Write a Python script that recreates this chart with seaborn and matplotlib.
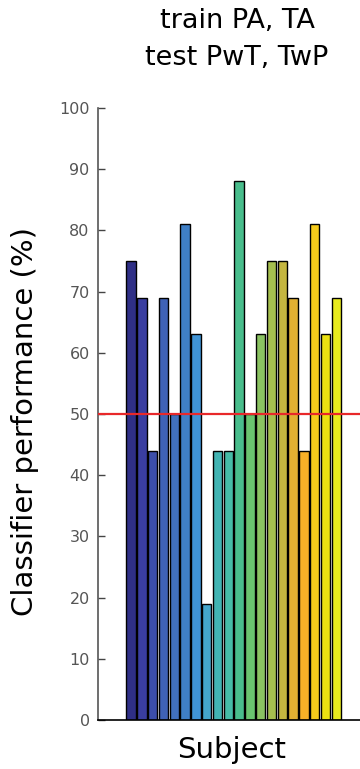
import matplotlib
matplotlib.use("Agg")
import matplotlib.pyplot as plt
import seaborn as sns
import pandas as pd

# Per-subject classifier performance (%)
subjects = [f"S{i}" for i in range(1, 21)]
performance = [75, 69, 44, 69, 50, 81, 63, 19, 44, 44,
               88, 50, 63, 75, 75, 69, 44, 81, 63, 69]
chance_level = 50
bar_colors = ["#2f2f86", "#3a3ea0", "#3c4eaa", "#3f62b6", "#4170be",
              "#3f7fc6", "#4094d6", "#44a6cc", "#42b4b3", "#46bca7",
              "#49bd8c", "#6ac46f", "#8ac262", "#a6bf4f", "#c4b640",
              "#e2b032", "#f7b027", "#f5cb1b", "#ebe111", "#e8eb1e"]
y_ticks = [0, 10, 20, 30, 40, 50, 60, 70, 80, 90, 100]

sns.set_theme(style="white")
plt.rcParams["font.family"] = ["DejaVu Sans"]

df = pd.DataFrame({"subject": subjects, "perf": performance})

W, H = 360, 769
fig = plt.figure(figsize=(W / 100, H / 100), dpi=100)
ax = fig.add_axes([98 / W, 1 - 720 / H, 274 / W, 612 / H])

sns.barplot(data=df, x="subject", y="perf", hue="subject", palette=bar_colors,
            legend=False, width=0.86, edgecolor="black", linewidth=1.0,
            saturation=1, ax=ax)

ax.axhline(chance_level, color="#e8282a", linewidth=1.6, zorder=5)

ax.set_xlim(-3.06, 22.3)
ax.set_ylim(0, 100)
ax.set_yticks(y_ticks)
ax.set_yticklabels([str(t) for t in y_ticks], color="#555555", fontsize=11.5)
ax.set_xticks([])
ax.tick_params(axis="y", direction="in", length=5, width=1, color="#444444",
               left=True, pad=6)
ax.set_xlabel("")
ax.set_ylabel("")

for s in ["top", "right"]:
    ax.spines[s].set_visible(False)
ax.spines["left"].set_color("#555555")
ax.spines["left"].set_linewidth(1.2)
ax.spines["bottom"].set_color("black")
ax.spines["bottom"].set_linewidth(1.2)

fig.text(237 / W, 1 - 21 / H, "train PA, TA", ha="center", va="center",
         fontsize=19.5, color="black")
fig.text(237 / W, 1 - 58 / H, "test PwT, TwP", ha="center", va="center",
         fontsize=19.5, color="black")
fig.text(232 / W, 1 - 750 / H, "Subject", ha="center", va="center",
         fontsize=21, color="black")
fig.text(25 / W, 1 - 422 / H, "Classifier performance (%)", ha="center",
         va="center", rotation=90, fontsize=21, color="black")

fig.savefig("out.png", dpi=100)
